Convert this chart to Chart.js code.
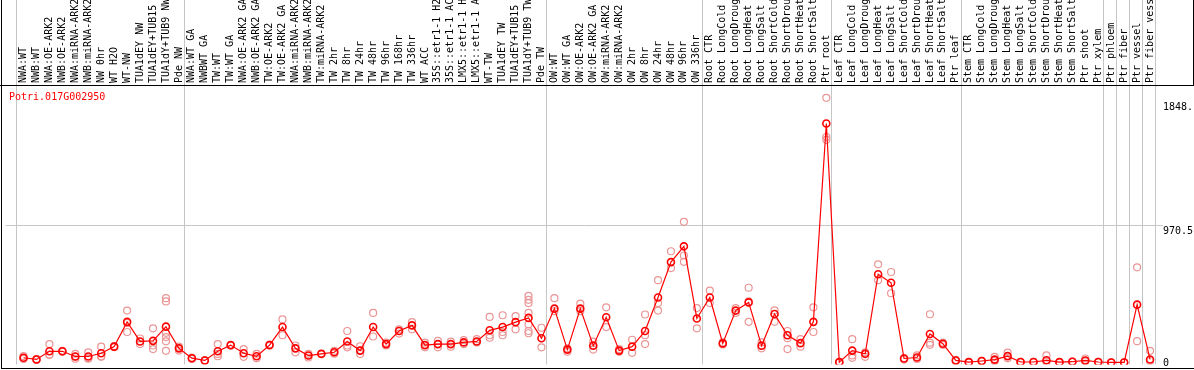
<!DOCTYPE html>
<html lang="en">
<head>
<meta charset="UTF-8" />
<title>Potri.017G002950</title>
<script src="https://cdn.jsdelivr.net/npm/chart.js@4.4.1/dist/chart.umd.min.js"></script>
<style>
  html, body { margin: 0; padding: 0; background: #fff; }
  canvas { display: block; }
</style>
</head>
<body>
<canvas id="expr" width="1194" height="370"></canvas>
<script>
// sample names, as they show on the plot (cut to 14 chars)
const labels = [
  'NWA:WT', 'NWB:WT', 'NWA:OE-ARK2', 'NWB:OE-ARK2', 'NWA:miRNA-ARK2', 'NWB:miRNA-ARK2', 'NW 0hr', 'WT H2O', 'WT-NW',
  'TUA1dEY NW', 'TUA1dEY+TUB15', 'TUA1dY+TUB9 NW', 'Pde NW',
  'NWA:WT GA', 'NWBWT GA', 'TW:WT', 'TW:WT GA', 'NWA:OE-ARK2 GA', 'NWB:OE-ARK2 GA', 'TW:OE-ARK2', 'TW:OE-ARK2 GA',
  'NWA:miRNA-ARK2', 'NWB:miRNA-ARK2', 'TW:miRNA-ARK2', 'TW 2hr', 'TW 8hr', 'TW 24hr', 'TW 48hr', 'TW 96hr', 'TW 168hr',
  'TW 336hr', 'WT ACC', '35S::etr1-1 H2', '35S::etr1-1 AC', 'LMX5::etr1-1 H', 'LMX5::etr1-1 A', 'WT-TW', 'TUA1dEY TW',
  'TUA1dEY+TUB15', 'TUA1dY+TUB9 TW', 'Pde TW',
  'OW:WT', 'OW:WT GA', 'OW:OE-ARK2', 'OW:OE-ARK2 GA', 'OW:miRNA-ARK2', 'OW:miRNA-ARK2', 'OW 2hr', 'OW 8hr', 'OW 24hr',
  'OW 48hr', 'OW 96hr', 'OW 336hr',
  'Root CTR', 'Root LongCold', 'Root LongDroug', 'Root LongHeat', 'Root LongSalt', 'Root ShortCold', 'Root ShortDrou',
  'Root ShortHeat', 'Root ShortSalt', 'Ptr root',
  'Leaf CTR', 'Leaf LongCold', 'Leaf LongDroug', 'Leaf LongHeat', 'Leaf LongSalt', 'Leaf ShortCold', 'Leaf ShortDrou',
  'Leaf ShortHeat', 'Leaf ShortSalt', 'Ptr leaf',
  'Stem CTR', 'Stem LongCold', 'Stem LongDroug', 'Stem LongHeat', 'Stem LongSalt', 'Stem ShortCold', 'Stem ShortDrou',
  'Stem ShortHeat', 'Stem ShortSalt', 'Ptr shoot',
  'Ptr xylem', 'Ptr phloem', 'Ptr fiber', 'Ptr vessel', 'Ptr fiber vess'
];

// mean expression per sample
const means = [
  33, 21, 79, 79, 42, 42, 65, 112, 288, 149, 153, 254, 100,
  30, 14, 79, 123, 65, 44, 123, 251, 100, 49, 61, 72, 149, 84, 251, 130, 223, 263, 123, 130, 130, 142, 149, 228, 251, 286, 316, 172,
  382, 91, 382, 119, 321, 84, 112, 223, 461, 712, 824, 312,
  461, 135, 368, 426, 119, 344, 193, 137, 288, 1696,
  2, 84, 61, 626, 565, 28, 35, 202, 133, 14,
  2, 10, 20, 45, 3, 3, 15, 2, 5, 14,
  3, 0, 0, 410, 21
];

// single replicates per sample
const reps = [
  [25, 45, 30], [18, 25], [130, 54, 55], [75, 83], [61, 26, 40], [72, 26, 30], [112, 44, 40], [108, 116],
  [368, 216, 280], [170, 130], [242, 95, 120], [456, 433, 210, 180, 150, 82], [112, 84],
  [35, 25], [14, 14], [130, 44, 60], [123, 120], [95, 40], [61, 30], [123, 126], [305, 193], [120, 72],
  [61, 35], [61, 58], [82, 62], [223, 107, 120], [115, 60], [351, 184], [140, 120], [235, 205], [286, 235],
  [140, 107], [153, 107], [147, 112], [158, 130], [165, 142], [323, 193, 175], [335, 216, 193], [328, 235],
  [472, 444, 421, 351, 270, 223, 207], [246, 107],
  [456, 364], [75, 100], [417, 364], [147, 91], [391, 251], [95, 75], [161, 68], [340, 193, 130],
  [584, 421, 368], [789, 670], [998, 759, 714], [386, 242],
  [510, 421], [142, 128], [386, 351], [530, 433, 288], [142, 100], [370, 288], [223, 172, 95], [165, 112],
  [391, 216], [1878, 1600, 1580],
  [0, 4], [165, 33, 50], [72, 40], [696, 584], [642, 491], [30, 20], [50, 25], [342, 140, 125], [140, 125], [10, 18],
  [0, 4], [8, 12], [40, 10], [70, 30], [2, 4], [2, 4], [50, 5], [2, 3], [4, 6], [28, 8],
  [2, 4], [0, 0], [0, 0], [675, 151], [82, 10]
];

// last sample index of each block (grey separators)
const groupEnds = [-1, 12, 40, 52, 62, 72, 83, 84, 85, 86, 87];
const yTicks = [0, 970.5, 1848.6];
const geneName = 'Potri.017G002950';

const MONO = '10px "DejaVu Sans Mono", "Liberation Mono", monospace';

const meanPts = means.map((v, i) => ({ x: i, y: v }));
const repPts = [];
reps.forEach((r, i) => r.forEach(v => repPts.push({ x: i, y: v })));

const frame = {
  id: 'frame',
  beforeDraw(chart) {
    const c = chart.ctx;
    c.save();
    c.fillStyle = '#fff';
    c.fillRect(0, 0, chart.width, chart.height);
    c.restore();
  },
  beforeDatasetsDraw(chart) {
    const c = chart.ctx, xs = chart.scales.x;
    c.save();
    c.strokeStyle = '#c6c6c6';
    c.lineWidth = 1;
    groupEnds.forEach(g => {
      const px = Math.round(xs.getPixelForValue(g + 0.385)) + 0.5;
      c.beginPath();
      c.moveTo(px, 0);
      c.lineTo(px, chart.chartArea.bottom);
      c.stroke();
    });
    c.restore();
  },
  afterDraw(chart) {
    const c = chart.ctx, xs = chart.scales.x, ys = chart.scales.y, a = chart.chartArea;
    c.save();
    // black frame
    c.fillStyle = '#000';
    c.fillRect(0, 85, chart.width, 1);
    c.fillRect(1, 0, 1, 369);
    c.fillRect(1, 368, chart.width - 1, 1);
    c.fillRect(1193, 0, 1, 85);

    // sample names, rotated
    c.font = MONO;
    labels.forEach((t, i) => {
      c.save();
      c.translate(xs.getPixelForValue(i), 83);
      c.rotate(-Math.PI / 2);
      c.textAlign = 'left';
      c.textBaseline = 'middle';
      c.fillText(t, 0, 0);
      c.restore();
    });

    // y labels on the right
    c.textAlign = 'left';
    c.textBaseline = 'alphabetic';
    yTicks.forEach(v => {
      const py = Math.min(ys.getPixelForValue(v) + 8.5, 366);
      c.fillText(String(v).slice(0, 5), a.right, py);
    });

    // gene id
    c.fillStyle = '#ff0000';
    c.fillText(geneName, 9, 100);
    c.restore();
  }
};

new Chart(document.getElementById('expr'), {
  type: 'line',
  data: {
    datasets: [
      {
        label: 'mean',
        data: meanPts,
        borderColor: '#ff0000',
        borderWidth: 1.2,
        pointRadius: 3.5,
        pointBorderWidth: 1.6,
        pointBorderColor: '#ff0000',
        pointBackgroundColor: 'rgba(255,255,255,0)',
        tension: 0,
        order: 0
      },
      {
        label: 'replicates',
        data: repPts,
        showLine: false,
        pointRadius: 3.5,
        pointBorderWidth: 1.2,
        pointBorderColor: '#eb9696',
        pointBackgroundColor: 'rgba(255,255,255,0)',
        order: 1
      }
    ]
  },
  options: {
    responsive: false,
    animation: false,
    devicePixelRatio: 1,
    layout: { padding: { top: 86, left: 1, right: 0, bottom: 1 } },
    plugins: { legend: { display: false }, tooltip: { enabled: false } },
    scales: {
      x: {
        type: 'linear',
        display: false,
        min: -1.3846,
        max: 88
      },
      y: {
        position: 'right',
        min: -14,
        max: 1962,
        afterBuildTicks: s => { s.ticks = yTicks.map(v => ({ value: v })); },
        afterFit: s => { s.width = 31; },
        ticks: { display: false },
        border: { display: false },
        grid: {
          drawTicks: false,
          color: ctx => (ctx.tick && ctx.tick.value === 970.5 ? '#c6c6c6' : 'rgba(0,0,0,0)')
        }
      }
    }
  },
  plugins: [frame]
});
</script>
</body>
</html>
